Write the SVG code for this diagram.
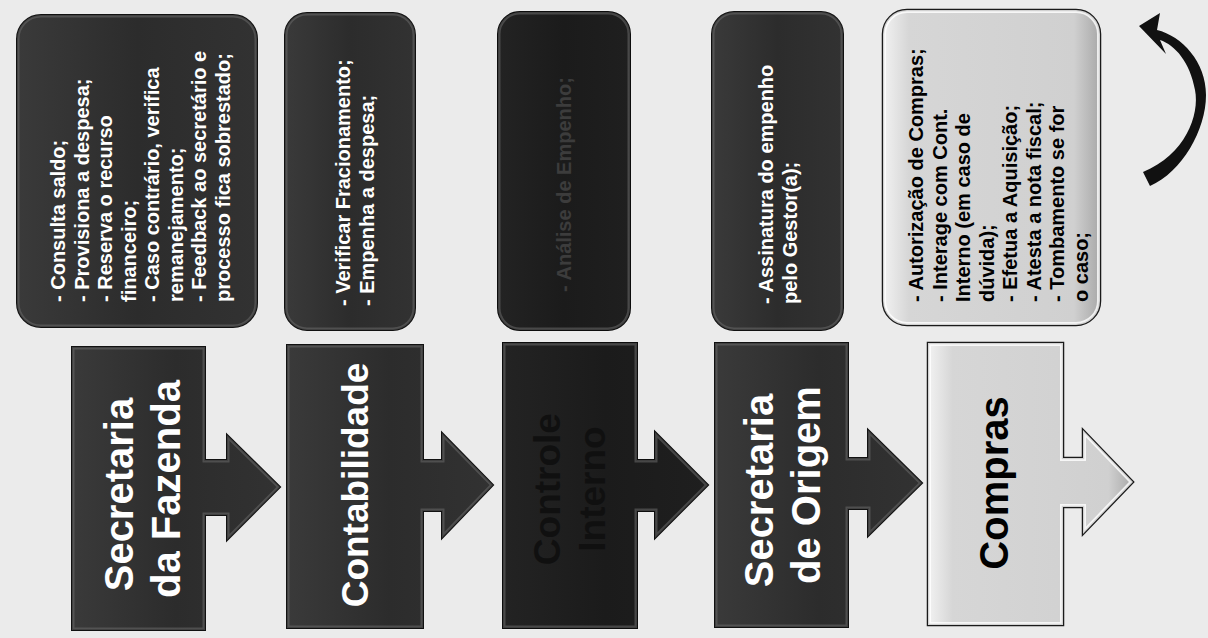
<svg xmlns="http://www.w3.org/2000/svg" width="1208" height="638" viewBox="0 0 1208 638">
<style>
.bg{fill:#ebebeb}
.dk{fill:url(#gDark);stroke:#111;stroke-width:2}
.dk3{fill:url(#gDark3);stroke:#0c0c0c;stroke-width:2}
.lt{fill:url(#gLight);stroke:#1a1a1a;stroke-width:2.5}
.bv{fill:none;stroke:#6a6a6a;stroke-width:5;opacity:.55}
.bvl{fill:none;stroke:#ffffff;stroke-width:6;opacity:.8}
.big{font-family:"Liberation Sans",Arial,sans-serif;font-weight:bold;font-size:40px;fill:#fff;text-anchor:middle}
.sm{font-family:"Liberation Sans",Arial,sans-serif;font-weight:bold;font-size:20px;fill:#fff}
.conn{fill:#111}
</style>
<defs>
<linearGradient id="gDark" x1="0" y1="0" x2="1" y2="0">
<stop offset="0" stop-color="#3a3a3a"/><stop offset="0.5" stop-color="#2c2c2c"/><stop offset="1" stop-color="#323232"/>
</linearGradient>
<linearGradient id="gDark3" x1="0" y1="0" x2="1" y2="0">
<stop offset="0" stop-color="#232323"/><stop offset="0.5" stop-color="#1b1b1b"/><stop offset="1" stop-color="#1f1f1f"/>
</linearGradient>
<linearGradient id="gLight" x1="0" y1="0" x2="1" y2="0">
<stop offset="0" stop-color="#f2f2f2"/><stop offset="0.12" stop-color="#d6d6d6"/><stop offset="0.88" stop-color="#d0d0d0"/><stop offset="1" stop-color="#a8a8a8"/>
</linearGradient>
<path id="a1" d="M72,347 H205 V460 H227 V435 L280,487 L227,540 V515 H205 V630 H72 Z"/>
<path id="a2" d="M287,345 H423 V460 H442 V433 L493,485 L442,538 V511 H423 V628 H287 Z"/>
<path id="a3" d="M503,343 H637 V460 H655 V432 L708,485 L655,538 V511 H637 V628 H503 Z"/>
<path id="a4" d="M715,343 H848 V458 H868 V430 L922,483 L868,536 V509 H848 V627 H715 Z"/>
<path id="a5" d="M928,343 H1063 V458 H1083 V430 L1133,482 L1083,534 V507 H1063 V625 H928 Z"/>
<rect id="b1" x="17" y="15" width="240" height="312" rx="24"/>
<rect id="b2" x="285" y="13" width="130" height="317" rx="22"/>
<rect id="b3" x="498" y="12" width="132" height="318" rx="22"/>
<rect id="b4" x="712" y="12" width="131" height="318" rx="22"/>
<rect id="b5" x="883" y="10" width="217" height="315" rx="24"/>
<clipPath id="c1"><use href="#a1"/></clipPath>
<clipPath id="c2"><use href="#a2"/></clipPath>
<clipPath id="c3"><use href="#a3"/></clipPath>
<clipPath id="c4"><use href="#a4"/></clipPath>
<clipPath id="c5"><use href="#a5"/></clipPath>
<clipPath id="d1"><use href="#b1"/></clipPath>
<clipPath id="d2"><use href="#b2"/></clipPath>
<clipPath id="d3"><use href="#b3"/></clipPath>
<clipPath id="d4"><use href="#b4"/></clipPath>
<clipPath id="d5"><use href="#b5"/></clipPath>
</defs>
<rect class="bg" x="0" y="0" width="1208" height="638"/>

<g id="note-fazenda">
<use href="#b1" class="dk"/>
<use href="#b1" class="bv" clip-path="url(#d1)"/>
<text class="sm" transform="rotate(-90)">
<tspan x="-302" y="65">- Consulta saldo;</tspan>
<tspan x="-302" y="88.5">- Provisiona a despesa;</tspan>
<tspan x="-302" y="112">- Reserva o recurso</tspan>
<tspan x="-302" y="135.5">financeiro;</tspan>
<tspan x="-302" y="159">- Caso contrário, verifica</tspan>
<tspan x="-302" y="182.5">remanejamento;</tspan>
<tspan x="-302" y="206">- Feedback ao secretário e</tspan>
<tspan x="-302" y="229.5">processo fica sobrestado;</tspan>
</text>
</g>

<g id="note-contabilidade">
<use href="#b2" class="dk"/>
<use href="#b2" class="bv" clip-path="url(#d2)"/>
<text class="sm" transform="rotate(-90)">
<tspan x="-306" y="350">- Verificar Fracionamento;</tspan>
<tspan x="-306" y="373.5">- Empenha a despesa;</tspan>
</text>
</g>

<g id="note-controle">
<use href="#b3" class="dk3"/>
<use href="#b3" class="bv" clip-path="url(#d3)" opacity="0.3"/>
<text class="sm" transform="rotate(-90)" style="fill:#3c3c3c">
<tspan x="-292" y="571">- Análise de Empenho;</tspan>
</text>
</g>

<g id="note-origem">
<use href="#b4" class="dk"/>
<use href="#b4" class="bv" clip-path="url(#d4)"/>
<text class="sm" transform="rotate(-90)">
<tspan x="-304" y="773">- Assinatura do empenho</tspan>
<tspan x="-304" y="796.5">pelo Gestor(a);</tspan>
</text>
</g>

<g id="note-compras">
<use href="#b5" class="lt"/>
<use href="#b5" class="bvl" clip-path="url(#d5)"/>
<text class="sm" transform="rotate(-90)" style="fill:#000">
<tspan x="-302" y="923">- Autorização de Compras;</tspan>
<tspan x="-302" y="946.5">- Interage com Cont.</tspan>
<tspan x="-302" y="970">Interno (em caso de</tspan>
<tspan x="-302" y="993.5">dúvida);</tspan>
<tspan x="-302" y="1017">- Efetua a Aquisição;</tspan>
<tspan x="-302" y="1040.5">- Atesta a nota fiscal;</tspan>
<tspan x="-302" y="1064">- Tombamento se for</tspan>
<tspan x="-302" y="1087.5">o caso;</tspan>
</text>
</g>

<g id="step-fazenda">
<use href="#a1" class="dk"/>
<use href="#a1" class="bv" clip-path="url(#c1)"/>
<text class="big" transform="rotate(-90)">
<tspan x="-489" y="133">Secretaria</tspan>
<tspan x="-489" y="180">da Fazenda</tspan>
</text>
</g>

<g id="step-contabilidade">
<use href="#a2" class="dk"/>
<use href="#a2" class="bv" clip-path="url(#c2)"/>
<text class="big" transform="rotate(-90)" style="font-size:37px">
<tspan x="-485" y="368">Contabilidade</tspan>
</text>
</g>

<g id="step-controle">
<use href="#a3" class="dk3"/>
<use href="#a3" class="bv" clip-path="url(#c3)" opacity="0.3"/>
<text class="big" transform="rotate(-90)" style="font-size:37px;fill:#101010">
<tspan x="-484" y="560">Controle</tspan>
<tspan x="-489" y="605">Interno</tspan>
</text>
</g>

<g id="step-origem">
<use href="#a4" class="dk"/>
<use href="#a4" class="bv" clip-path="url(#c4)"/>
<text class="big" transform="rotate(-90)">
<tspan x="-485" y="773">Secretaria</tspan>
<tspan x="-485" y="820">de Origem</tspan>
</text>
</g>

<g id="step-compras">
<use href="#a5" class="lt"/>
<use href="#a5" class="bvl" clip-path="url(#c5)"/>
<text class="big" transform="rotate(-90)" style="fill:#000">
<tspan x="-483" y="1008">Compras</tspan>
</text>
</g>

<g id="connectors">
<path class="conn" d="M1143,172 C1185,155 1200,115 1195,90 C1190,62 1175,45 1160,40 L1166,54 L1139,26 L1160,13 L1157,30 C1182,36 1206,62 1206,95 C1206,130 1182,172 1150,186 Z"/>
</g>
</svg>
